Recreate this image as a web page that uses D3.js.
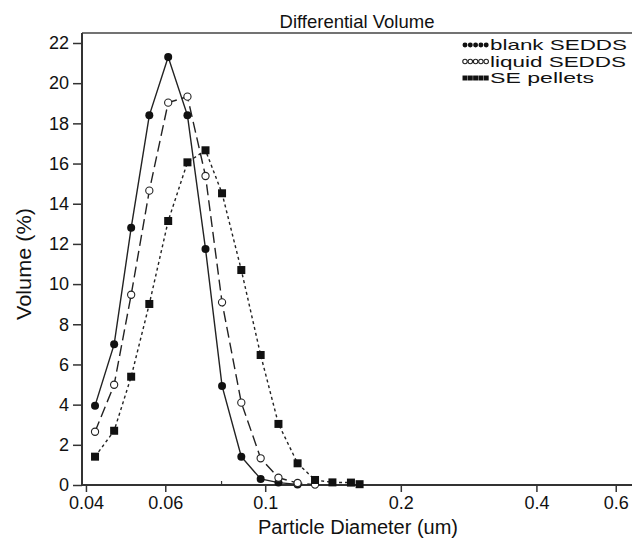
<!DOCTYPE html>
<head>
    <meta charset="utf-8">
    <script src="https://d3js.org/d3.v7.min.js"></script>
    <style>
      body { margin: 0; background: #fff; }
      text { font-family: "Liberation Sans", Arial, sans-serif; fill: #111; }
    </style>
</head>
<body>
    <script>
        // particle diameter bins (um)
        var blankX  = [0.0419, 0.0462, 0.0504, 0.0553, 0.0609, 0.0672, 0.0737, 0.0802, 0.0885, 0.0977, 0.107, 0.118]
        var blankY  = [3.95, 7.0, 12.8, 18.4, 21.3, 18.4, 11.75, 4.93, 1.41, 0.30, 0.12, 0.03]
        var liquidX = [0.0419, 0.0462, 0.0504, 0.0553, 0.0609, 0.0672, 0.0737, 0.0802, 0.0885, 0.0977, 0.107, 0.118, 0.129]
        var liquidY = [2.65, 4.99, 9.47, 14.65, 19.03, 19.33, 15.38, 9.09, 4.1, 1.33, 0.36, 0.1, 0.02]
        var pelletX = [0.0419, 0.0462, 0.0504, 0.0553, 0.0609, 0.0672, 0.0737, 0.0802, 0.0885, 0.0977, 0.107, 0.118, 0.129, 0.141, 0.155, 0.162]
        var pelletY = [1.41, 2.70, 5.39, 9.01, 13.14, 16.06, 16.66, 14.52, 10.7, 6.47, 3.04, 1.08, 0.25, 0.13, 0.12, 0.04]
        var xTicks = [0.04, 0.06, 0.1, 0.2, 0.4, 0.6]
        var yTicks = [0, 2, 4, 6, 8, 10, 12, 14, 16, 18, 20, 22]
        var seriesNames = ["blank SEDDS", "liquid SEDDS", "SE pellets"]

        var svg_w = 632, svg_h = 538
        var svg = d3.select("body").append("svg")
          .attr("width", svg_w)
          .attr("height", svg_h)

        var plotLeft = 82, plotTop = 33, plotBottom = 485
        var x = d3.scaleLog().domain([0.0392, 0.652]).range([plotLeft, svg_w])
        var y = d3.scaleLinear().domain([0, 22]).range([plotBottom, 43])

        // frame
        svg.append("line").attr("x1", plotLeft).attr("x2", svg_w).attr("y1", plotTop).attr("y2", plotTop)
          .attr("stroke", "#444").attr("stroke-width", 1.5)
        svg.append("line").attr("x1", plotLeft).attr("x2", plotLeft).attr("y1", plotTop).attr("y2", plotBottom)
          .attr("stroke", "#333").attr("stroke-width", 2)
        svg.append("line").attr("x1", plotLeft).attr("x2", svg_w).attr("y1", plotBottom).attr("y2", plotBottom)
          .attr("stroke", "#333").attr("stroke-width", 2)

        var yAxis = svg.append("g")
          .attr("transform", "translate(" + plotLeft + ",0)")
          .call(d3.axisLeft(y).tickValues(yTicks).tickSize(9).tickPadding(4))
        yAxis.select(".domain").remove()
        yAxis.selectAll("line").attr("stroke", "#333").attr("stroke-width", 1.5)
        yAxis.selectAll("text").attr("font-size", "18px").attr("font-family", "Liberation Sans, Arial")

        var xAxis = svg.append("g")
          .attr("transform", "translate(0," + plotBottom + ")")
          .call(d3.axisBottom(x).tickValues(xTicks).tickFormat(function(d){ return String(d) }).tickSize(7).tickPadding(4))
        xAxis.select(".domain").remove()
        xAxis.selectAll("line").attr("stroke", "#333").attr("stroke-width", 1.5)
        xAxis.selectAll("text").attr("font-size", "18px").attr("font-family", "Liberation Sans, Arial")

        // small inner tick at 0.08
        svg.append("line").attr("x1", x(0.08)).attr("x2", x(0.08)).attr("y1", plotBottom).attr("y2", plotBottom - 4)
          .attr("stroke", "#333").attr("stroke-width", 1.2)

        svg.append("text").attr("x", 357).attr("y", 28).attr("text-anchor", "middle")
          .attr("font-size", "18.5px").text("Differential Volume")
        svg.append("text").attr("x", 358).attr("y", 534).attr("text-anchor", "middle")
          .attr("font-size", "20px").text("Particle Diameter (um)")
        svg.append("text").attr("transform", "translate(31,264) rotate(-90)").attr("text-anchor", "middle")
          .attr("font-size", "20px").attr("textLength", 112).attr("lengthAdjust", "spacingAndGlyphs")
          .text("Volume (%)")

        function pairs(xs, ys){ return xs.map(function(d, i){ return [d, ys[i]] }) }
        var line = d3.line().x(function(d){ return x(d[0]) }).y(function(d){ return y(d[1]) })

        var series = [
          {name: seriesNames[0], data: pairs(blankX, blankY), dash: null},
          {name: seriesNames[1], data: pairs(liquidX, liquidY), dash: "11,5"},
          {name: seriesNames[2], data: pairs(pelletX, pelletY), dash: "3,3"}
        ]

        series.forEach(function(s, k){
          var g = svg.append("g")
          g.append("path").attr("d", line(s.data))
            .attr("fill", "none").attr("stroke", "#222").attr("stroke-width", 1.4)
            .attr("stroke-dasharray", s.dash)
          drawMarks(g, s.data.map(function(d){ return [x(d[0]), y(d[1])] }), k, 1)
        })

        function drawMarks(g, pts, k, scale){
          if (k == 0) {
            g.selectAll(null).data(pts).enter().append("circle")
              .attr("cx", function(d){ return d[0] }).attr("cy", function(d){ return d[1] })
              .attr("r", 4 * scale).attr("fill", "#111")
          } else if (k == 1) {
            g.selectAll(null).data(pts).enter().append("circle")
              .attr("cx", function(d){ return d[0] }).attr("cy", function(d){ return d[1] })
              .attr("r", 3.6 * scale).attr("fill", "#fff").attr("stroke", "#222").attr("stroke-width", 1.1)
          } else {
            var s = 8 * scale
            g.selectAll(null).data(pts).enter().append("rect")
              .attr("x", function(d){ return d[0] - s/2 }).attr("y", function(d){ return d[1] - s/2 })
              .attr("width", s).attr("height", s).attr("fill", "#111")
          }
        }

        // legend
        var legY = [45, 61.5, 78]
        var legLen = [137, 136, 104]
        seriesNames.forEach(function(name, k){
          var g = svg.append("g")
          var pts = d3.range(5).map(function(i){ return [465 + i * 5.3, legY[k]] })
          drawMarks(g, pts, k, 0.62)
          g.append("text").attr("x", 490).attr("y", legY[k] + 5)
            .attr("font-size", "14.5px").attr("textLength", legLen[k]).attr("lengthAdjust", "spacingAndGlyphs")
            .text(name)
        })
    </script>
</body>
